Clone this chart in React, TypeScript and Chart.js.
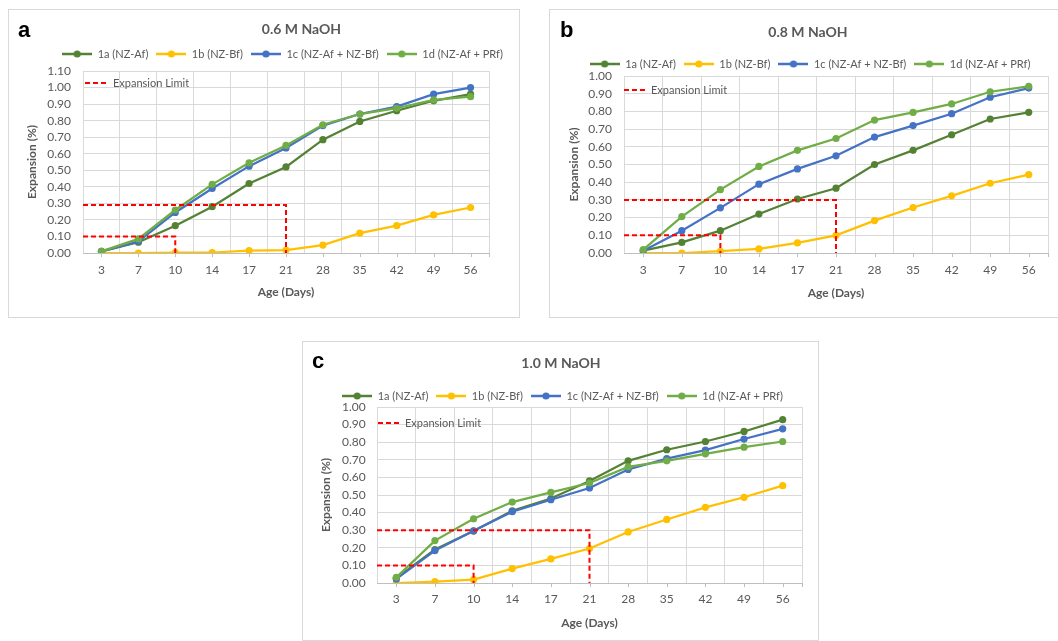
import React, { useEffect, useRef } from "react";
import { Chart, registerables } from "chart.js";

Chart.register(...registerables);

const FONT = "Lato, 'Open Sans', 'Noto Sans', sans-serif";
const TEXT = "#595959";
const GRID = "#d9d9d9";

// ---------- data ----------
const AGE_DAYS = ["3", "7", "10", "14", "17", "21", "28", "35", "42", "49", "56"];
const SERIES_NAMES = ["1a (NZ-Af)", "1b (NZ-Bf)", "1c (NZ-Af + NZ-Bf)", "1d (NZ-Af + PRf)"];
const SERIES_COLORS = ["#548235", "#FFC000", "#4472C4", "#70AD47"];
const LIMIT_LABEL = "Expansion Limit";
const LIMIT_DAYS = ["10", "21"];
const PANEL_TITLES = ["0.6 M NaOH", "0.8 M NaOH", "1.0 M NaOH"];
const PANEL_LETTERS = ["a", "b", "c"];
const Y_MAX = [1.1, 1.0, 1.0];
const X_TITLE = "Age (Days)";
const Y_TITLE = "Expansion (%)";

// 0.6 M NaOH
const A_1A = [0.01, 0.065, 0.165, 0.28, 0.42, 0.52, 0.685, 0.795, 0.86, 0.92, 0.96];
const A_1B = [0.0, 0.0, 0.002, 0.003, 0.015, 0.018, 0.048, 0.12, 0.165, 0.23, 0.275];
const A_1C = [0.01, 0.07, 0.245, 0.39, 0.525, 0.635, 0.77, 0.84, 0.885, 0.96, 1.0];
const A_1D = [0.01, 0.085, 0.26, 0.415, 0.545, 0.65, 0.775, 0.84, 0.875, 0.925, 0.945];
const A_LIMITS = [0.1, 0.29];

// 0.8 M NaOH
const B_1A = [0.013, 0.06, 0.126, 0.22, 0.305, 0.366, 0.5, 0.58, 0.668, 0.757, 0.795];
const B_1B = [0.0, 0.0, 0.01, 0.023, 0.057, 0.1, 0.183, 0.257, 0.323, 0.394, 0.443];
const B_1C = [0.013, 0.126, 0.255, 0.389, 0.475, 0.549, 0.655, 0.72, 0.787, 0.88, 0.932];
const B_1D = [0.019, 0.206, 0.358, 0.489, 0.58, 0.647, 0.751, 0.794, 0.842, 0.911, 0.942];
const B_LIMITS = [0.1, 0.3];

// 1.0 M NaOH
const C_1A = [0.027, 0.19, 0.295, 0.41, 0.48, 0.58, 0.694, 0.757, 0.804, 0.861, 0.928];
const C_1B = [0.0, 0.008, 0.019, 0.082, 0.137, 0.196, 0.29, 0.361, 0.43, 0.487, 0.553];
const C_1C = [0.023, 0.184, 0.297, 0.405, 0.473, 0.54, 0.645, 0.707, 0.755, 0.818, 0.876];
const C_1D = [0.032, 0.241, 0.365, 0.46, 0.515, 0.568, 0.66, 0.694, 0.734, 0.772, 0.804];
const C_LIMITS = [0.1, 0.3];

// ---------- layout (positions only) ----------
const PANELS = [
  {
    series: [A_1A, A_1B, A_1C, A_1D], limits: A_LIMITS, idx: 0,
    boxLeft: 8, boxTop: 9, w: 510, h: 307,
    letterLeft: 18, letterTop: 19,
    padTop: 15.2, padRight: 30, yAxisW: 74, xAxisH: 64,
    xTickPad: 10, xTitlePadBottom: 17.8, yTickPad: 12, yTitlePadTop: 15.8,
    titleX: 292.5, titleY: 19, legendX: 273.5, legendY: 44,
    limDx: 2, limDy: 12, limTextDx: 28,
  },
  {
    series: [B_1A, B_1B, B_1C, B_1D], limits: B_LIMITS, idx: 1,
    boxLeft: 549, boxTop: 9, w: 508, h: 307,
    letterLeft: 560, letterTop: 19,
    padTop: 20.2, padRight: 10, yAxisW: 74, xAxisH: 64,
    xTickPad: 10, xTitlePadBottom: 16.8, yTickPad: 12, yTitlePadTop: 16.8,
    titleX: 258, titleY: 22, legendX: 260, legendY: 54,
    limDx: 0, limDy: 14, limTextDx: 27,
  },
  {
    series: [C_1A, C_1B, C_1C, C_1D], limits: C_LIMITS, idx: 2,
    boxLeft: 302, boxTop: 341, w: 515, h: 298,
    letterLeft: 312, letterTop: 350,
    padTop: 19.2, padRight: 16, yAxisW: 74, xAxisH: 57,
    xTickPad: 9, xTitlePadBottom: 9.8, yTickPad: 11.3, yTitlePadTop: 15.8,
    titleX: 258, titleY: 21, legendX: 259.5, legendY: 54,
    limDx: 1, limDy: 16, limTextDx: 27,
  },
];

function makeIcon(color: string) {
  const c = document.createElement("canvas");
  c.width = 30;
  c.height = 10;
  const g = c.getContext("2d")!;
  g.strokeStyle = color;
  g.lineWidth = 2.5;
  g.beginPath();
  g.moveTo(0, 5);
  g.lineTo(30, 5);
  g.stroke();
  g.fillStyle = color;
  g.beginPath();
  g.arc(15, 5, 3.6, 0, Math.PI * 2);
  g.fill();
  return c;
}

function Panel({ cfg }: { cfg: any }) {
  const ref = useRef<HTMLCanvasElement | null>(null);

  useEffect(() => {
    const canvas = ref.current;
    if (!canvas) return;
    const icons = SERIES_COLORS.map(makeIcon);
    const limitIdx = LIMIT_DAYS.map((d) => AGE_DAYS.indexOf(d));

    const seriesSets = cfg.series.map((vals: number[], i: number) => ({
      label: SERIES_NAMES[i],
      data: vals,
      xAxisID: "x",
      yAxisID: "y",
      borderColor: SERIES_COLORS[i],
      backgroundColor: SERIES_COLORS[i],
      pointBackgroundColor: SERIES_COLORS[i],
      pointBorderColor: SERIES_COLORS[i],
      pointBorderWidth: 0,
      pointRadius: 3.6,
      borderWidth: 2.25,
      tension: 0,
      fill: false,
      order: 4 - i,
    }));
    const limitSets = cfg.limits.map((lv: number, k: number) => ({
      label: LIMIT_LABEL,
      data: [
        { x: -0.5, y: lv },
        { x: limitIdx[k], y: lv },
        { x: limitIdx[k], y: 0 },
      ],
      xAxisID: "xl",
      yAxisID: "y",
      borderColor: "#FF0000",
      borderDash: [5, 3],
      borderWidth: 2,
      pointRadius: 0,
      fill: false,
      order: 0,
    }));

    const shiftPlugin = {
      id: "shiftBlocks",
      afterLayout(chart: any) {
        const t = chart.titleBlock;
        if (t) {
          const dx = cfg.titleX - (t.left + t.right) / 2;
          const dy = cfg.titleY - (t.top + 8.4);
          t.left += dx; t.right += dx; t.top += dy; t.bottom += dy;
        }
        const l = chart.legend;
        if (l) {
          const dx = cfg.legendX - (l.left + l.right) / 2;
          const dy = cfg.legendY - (l.top + 8 + 5.5);
          l.left += dx; l.right += dx; l.top += dy; l.bottom += dy;
        }
      },
    };

    const extrasPlugin = {
      id: "extras",
      afterDraw(chart: any) {
        const { ctx, chartArea } = chart;
        const xs = chart.scales.x;
        ctx.save();
        // tick marks centred on categories
        ctx.strokeStyle = "#bfbfbf";
        ctx.lineWidth = 1;
        ctx.beginPath();
        for (let i = 0; i < AGE_DAYS.length; i++) {
          const px = Math.round(xs.getPixelForTick(i)) + 0.5;
          ctx.moveTo(px, chartArea.bottom);
          ctx.lineTo(px, chartArea.bottom + 4);
        }
        const pr = Math.round(chartArea.right) + 0.5;
        ctx.moveTo(pr, chartArea.bottom);
        ctx.lineTo(pr, chartArea.bottom + 4);
        ctx.stroke();
        // expansion limit legend
        const x0 = chartArea.left + cfg.limDx;
        const y0 = chartArea.top + cfg.limDy;
        ctx.strokeStyle = "#FF0000";
        ctx.lineWidth = 2;
        ctx.setLineDash([5, 3]);
        ctx.beginPath();
        ctx.moveTo(x0, y0);
        ctx.lineTo(x0 + 21, y0);
        ctx.stroke();
        ctx.setLineDash([]);
        ctx.fillStyle = TEXT;
        ctx.font = `11px ${FONT}`;
        ctx.textBaseline = "middle";
        ctx.textAlign = "left";
        ctx.fillText(LIMIT_LABEL, x0 + cfg.limTextDx, y0);
        ctx.restore();
      },
    };

    const chart = new Chart(canvas, {
      type: "line",
      data: { labels: AGE_DAYS, datasets: [...seriesSets, ...limitSets] as any },
      options: {
        responsive: false,
        animation: false,
        devicePixelRatio: 1,
        layout: { padding: { top: cfg.padTop, left: 0, right: cfg.padRight, bottom: 0 } },
        plugins: {
          title: {
            display: true,
            text: PANEL_TITLES[cfg.idx],
            color: TEXT,
            font: { family: FONT, size: 14, weight: "bold" },
            padding: 0,
          },
          legend: {
            display: true,
            position: "top",
            labels: {
              usePointStyle: true,
              pointStyleWidth: 30,
              padding: 8,
              color: TEXT,
              font: { family: FONT, size: 11 },
              generateLabels: () =>
                SERIES_NAMES.map((name, i) => ({
                  text: name,
                  fillStyle: SERIES_COLORS[i],
                  strokeStyle: SERIES_COLORS[i],
                  lineWidth: 0,
                  pointStyle: icons[i] as any,
                  fontColor: TEXT,
                  hidden: false,
                  datasetIndex: i,
                })),
            },
          },
          tooltip: { enabled: false },
        },
        scales: {
          x: {
            type: "category",
            offset: true,
            grid: { offset: true, color: GRID, drawTicks: false },
            border: { color: "#bfbfbf" },
            ticks: {
              color: TEXT,
              font: { family: FONT, size: 12 },
              padding: cfg.xTickPad,
              autoSkip: false,
              maxRotation: 0,
            },
            title: {
              display: true,
              text: X_TITLE,
              color: TEXT,
              font: { family: FONT, size: 12, weight: "bold" },
              padding: { top: 0, bottom: cfg.xTitlePadBottom },
            },
            afterFit: (s: any) => {
              s.height = cfg.xAxisH;
            },
          },
          xl: {
            type: "linear",
            display: false,
            min: -0.5,
            max: AGE_DAYS.length - 0.5,
          },
          y: {
            min: 0,
            max: Y_MAX[cfg.idx],
            grid: { color: GRID, drawTicks: false },
            border: { display: false },
            ticks: {
              stepSize: 0.1,
              autoSkip: false,
              color: TEXT,
              font: { family: FONT, size: 12 },
              padding: cfg.yTickPad,
              callback: (v: any) => Number(v).toFixed(2),
            },
            title: {
              display: true,
              text: Y_TITLE,
              color: TEXT,
              font: { family: FONT, size: 12, weight: "bold" },
              padding: { top: cfg.yTitlePadTop, bottom: 0 },
            },
            afterFit: (s: any) => {
              s.width = cfg.yAxisW;
            },
          },
        } as any,
      },
      plugins: [shiftPlugin, extrasPlugin],
    });
    return () => chart.destroy();
  }, [cfg]);

  return (
    <>
      <div
        style={{
          position: "absolute",
          left: cfg.boxLeft,
          top: cfg.boxTop,
          width: cfg.w,
          height: cfg.h,
          border: "1px solid #d9d9d9",
          background: "#fff",
        }}
      >
        <canvas ref={ref} width={cfg.w} height={cfg.h} style={{ display: "block" }} />
      </div>
      <div
        style={{
          position: "absolute",
          left: cfg.letterLeft,
          top: cfg.letterTop,
          fontFamily: "'Liberation Sans', Arial, sans-serif",
          fontWeight: "bold",
          fontSize: 22,
          lineHeight: "22px",
          color: "#000",
        }}
      >
        {PANEL_LETTERS[cfg.idx]}
      </div>
    </>
  );
}

export default function App() {
  return (
    <div
      style={{
        position: "absolute",
        left: 0,
        top: 0,
        width: 1058,
        height: 641,
        background: "#fff",
        overflow: "hidden",
      }}
    >
      {PANELS.map((p) => (
        <Panel key={p.idx} cfg={p} />
      ))}
    </div>
  );
}
